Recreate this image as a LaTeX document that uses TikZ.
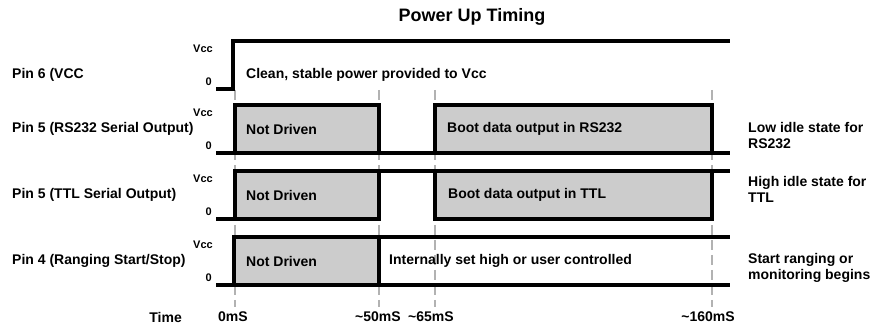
\documentclass[tikz,border=0pt]{standalone}
\usepackage{fontspec}
\setmainfont{Liberation Sans}
\usetikzlibrary{positioning}
\definecolor{boxgray}{RGB}{204,204,204}
\definecolor{markgray}{RGB}{178,178,178}

\begin{document}
\begin{tikzpicture}[x=1pt, y=1pt,
                    font=\bfseries\fontsize{14}{16}\selectfont]
      % styles
      \tikzstyle{sig}=[line width=3.2pt,line cap=butt]
      \tikzstyle{busy}=[sig,fill=boxgray]
      \tikzstyle{tickline}=[draw=markgray,line width=1.3pt,dash pattern=on 10pt off 5pt]
      \tikzstyle{pin}=[anchor=west,inner sep=0pt]
      \tikzstyle{lvl}=[anchor=east,inner sep=0pt,font=\bfseries\fontsize{11}{12}\selectfont]
      \tikzstyle{note}=[anchor=west,align=left,inner sep=0pt]
      \tikzstyle{txt}=[anchor=west,inner sep=0pt]

      \useasboundingbox (0,0) rectangle (871,329);

      % title
      \node[font=\bfseries\fontsize{18}{20}\selectfont] (title) at (472,312) {Power Up Timing};

      % time markers
      \foreach \t/\x/\lab [count=\i] in {235/233/0mS, 379/378/{\textasciitilde50mS},
                                        435/431/{\textasciitilde65mS}, 712/708/{\textasciitilde160mS}} {
        \draw[tickline] (\t,239) -- (\t,22);
        \node[inner sep=0pt] (t\i) at (\x,12) {\lab};
      }
      \node[anchor=east,inner sep=0pt] (time) at (182,12) {Time};

      % level labels and pin names
      \foreach \hi/\mid/\name [count=\i] in {288/254/{Pin 6 (VCC}, 224/200/{Pin 5 (RS232 Serial Output)},
                                            158/134/{Pin 5 (TTL Serial Output)}, 92/68/{Pin 4 (Ranging Start/Stop)}} {
        \node[pin] (pin\i) at (12,\mid) {\name};
        \node[lvl] (vcc\i) at (213,\hi-8) {Vcc};
        \node[lvl] (gnd\i) at (212,\hi-41) {0};
      }

      % pin 6
      \draw[sig] (216,240) -- (233,240) -- (233,288) -- (730,288);
      \node[txt] (clean) at (246,254) {Clean, stable power provided to Vcc};

      % pin 5 rs232
      \draw[busy] (235,176) rectangle (379,224);
      \draw[busy] (435,176) rectangle (712,224);
      \draw[sig] (216,176) -- (730,176);
      \node[txt] (nd1) at (246,200) {Not Driven};
      \node[txt] (boot1) at (447,200) {Boot data output in RS232};

      % pin 5 ttl
      \draw[busy] (235,110) rectangle (379,158);
      \draw[busy] (435,110) rectangle (712,158);
      \draw[sig] (216,110) -- (235,110);
      \draw[sig] (381,158) -- (435,158);
      \draw[sig] (712,158) -- (730,158);
      \node[txt] (nd2) at (246,134) {Not Driven};
      \node[txt] (boot2) at (448,134) {Boot data output in TTL};

      % pin 4
      \draw[busy] (234,44) rectangle (379,92);
      \draw[sig] (216,44) -- (234,44);
      \draw[sig] (379,92) -- (730,92);
      \draw[sig] (379,44) -- (730,44);
      \node[txt] (nd3) at (246,68) {Not Driven};
      \node[txt] (ctrl) at (389,68) {Internally set high or user controlled};

      % idle notes
      \node[note] (low) at (748,193) {Low idle state for\\RS232};
      \node[note] (high) at (748,140) {High idle state for\\TTL};
      \node[note] (start) at (748,61) {Start ranging or\\monitoring begins};
\end{tikzpicture}
\end{document}
